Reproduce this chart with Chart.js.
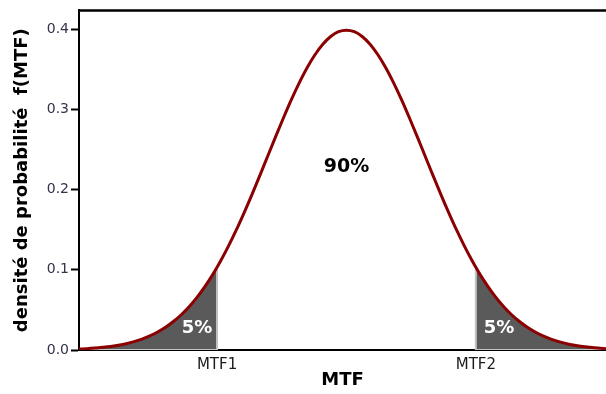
<!DOCTYPE html>
<html><head><meta charset="utf-8">
<script src="https://cdn.jsdelivr.net/npm/chart.js@4"></script>
<style>html,body{margin:0;padding:0;background:#fff;}#wrap{width:606px;height:394px;}</style>
</head><body><div id="wrap"><canvas id="c" width="606" height="394"></canvas></div>
<script>
// MTF values (x) and probability density f(MTF)
const mtfX = [-3.4,-3.3,-3.2,-3.1,-3.0,-2.9,-2.8,-2.7,-2.6,-2.5,-2.4,-2.3,-2.2,-2.1,-2.0,-1.9,-1.8,-1.7,-1.645,-1.6,-1.5,-1.4,-1.3,-1.2,-1.1,-1.0,-0.9,-0.8,-0.7,-0.6,-0.5,-0.4,-0.3,-0.2,-0.1,0.0,0.1,0.2,0.3,0.4,0.5,0.6,0.7,0.8,0.9,1.0,1.1,1.2,1.3,1.4,1.5,1.6,1.645,1.7,1.8,1.9,2.0,2.1,2.2,2.3,2.4,2.5,2.6,2.7,2.8,2.9,3.0,3.1,3.2,3.3];
const density = [0.0012,0.0017,0.0024,0.0033,0.0044,0.0060,0.0079,0.0104,0.0136,0.0175,0.0224,0.0283,0.0355,0.0440,0.0540,0.0656,0.0790,0.0940,0.1031,0.1109,0.1295,0.1497,0.1714,0.1942,0.2179,0.2420,0.2661,0.2897,0.3123,0.3332,0.3521,0.3683,0.3814,0.3910,0.3970,0.3989,0.3970,0.3910,0.3814,0.3683,0.3521,0.3332,0.3123,0.2897,0.2661,0.2420,0.2179,0.1942,0.1714,0.1497,0.1295,0.1109,0.1031,0.0940,0.0790,0.0656,0.0540,0.0440,0.0355,0.0283,0.0224,0.0175,0.0136,0.0104,0.0079,0.0060,0.0044,0.0033,0.0024,0.0017];
const boundaryX = [-1.645, 1.645];
const boundaryDensity = [0.1031, 0.1031];
const boundaryLabels = ['MTF1', 'MTF2'];
const yTicks = [0.0, 0.1, 0.2, 0.3, 0.4];
const areaLabels = ['5%', '90%', '5%'];
const areaLabelX = [-1.9, 0.0, 1.94];
const areaLabelY = [0.027, 0.228, 0.027];

const curve = mtfX.map((x, i) => ({x, y: density[i]}));
const leftTail = curve.filter(p => p.x <= boundaryX[0]);
const rightTail = curve.filter(p => p.x >= boundaryX[1]);
const leftEdge = [{x: mtfX[0], y: 0}, {x: boundaryX[0], y: 0}, {x: boundaryX[0], y: boundaryDensity[0]}];
const rightEdge = [{x: boundaryX[1], y: boundaryDensity[1]}, {x: boundaryX[1], y: 0}, {x: mtfX[mtfX.length-1], y: 0}];

const FONT = "'DejaVu Sans', Verdana, sans-serif";

const deco = {
  id: 'deco',
  afterDraw(chart) {
    const {ctx, chartArea: a, scales} = chart;
    ctx.save();
    ctx.strokeStyle = '#000';
    ctx.lineWidth = 2.5;
    ctx.beginPath();
    ctx.moveTo(a.left - 1, a.top);
    ctx.lineTo(a.right, a.top);
    ctx.stroke();
    ctx.textAlign = 'center';
    ctx.textBaseline = 'middle';
    areaLabels.forEach((t, i) => {
      const px = scales.x.getPixelForValue(areaLabelX[i]);
      const py = scales.y.getPixelForValue(areaLabelY[i]);
      if (t === '90%') { ctx.fillStyle = '#000'; ctx.font = 'bold 19px ' + FONT; }
      else { ctx.fillStyle = '#fff'; ctx.font = 'bold 18px ' + FONT; }
      ctx.fillText(t, px, py);
    });
    ctx.restore();
  }
};

const lineBase = {pointRadius: 0, tension: 0.3, cubicInterpolationMode: 'monotone'};

new Chart(document.getElementById('c'), {
  type: 'line',
  data: {
    datasets: [
      Object.assign({data: curve, borderColor: '#8b0000', borderWidth: 3, fill: false}, lineBase),
      {data: leftEdge, borderColor: '#c4c4c4', borderWidth: 2, pointRadius: 0, fill: false, tension: 0},
      {data: rightEdge, borderColor: '#c4c4c4', borderWidth: 2, pointRadius: 0, fill: false, tension: 0},
      Object.assign({data: leftTail, borderWidth: 0, backgroundColor: '#5a5a5a', fill: 'origin'}, lineBase),
      Object.assign({data: rightTail, borderWidth: 0, backgroundColor: '#5a5a5a', fill: 'origin'}, lineBase)
    ]
  },
  options: {
    responsive: false,
    animation: false,
    devicePixelRatio: 1,
    layout: {padding: {left: 0, right: 0, top: 9, bottom: 0}},
    plugins: {legend: {display: false}, tooltip: {enabled: false}},
    scales: {
      x: {
        type: 'linear',
        min: mtfX[0],
        max: mtfX[mtfX.length-1],
        afterBuildTicks: s => { s.ticks = boundaryX.map(v => ({value: v})); },
        afterFit: s => { s.height = 44; },
        ticks: {
          autoSkip: false, maxRotation: 0, padding: 6,
          color: '#1a1a1a', font: {family: FONT, size: 15},
          callback: (v, i) => boundaryLabels[i]
        },
        grid: {display: false, drawTicks: false},
        border: {display: true, color: '#000', width: 2},
        title: {display: true, text: 'MTF', color: '#000', font: {family: FONT, size: 18, weight: 'bold'}, padding: {top: 0, bottom: 3}}
      },
      y: {
        min: 0,
        max: 0.4236,
        afterBuildTicks: s => { s.ticks = yTicks.map(v => ({value: v})); },
        afterFit: s => { s.width = 79; },
        ticks: {
          color: '#33334a', padding: 2, font: {family: FONT, size: 14},
          callback: v => Number(v).toFixed(1)
        },
        grid: {drawOnChartArea: false, drawTicks: true, tickLength: 8, color: '#000', tickWidth: 2},
        border: {display: true, color: '#000', width: 2},
        title: {display: true, text: 'densité de probabilité  f(MTF)', color: '#000', font: {family: FONT, size: 18, weight: 'bold'}, padding: {top: 12, bottom: 0}}
      }
    }
  },
  plugins: [deco]
});
</script>
</body></html>
